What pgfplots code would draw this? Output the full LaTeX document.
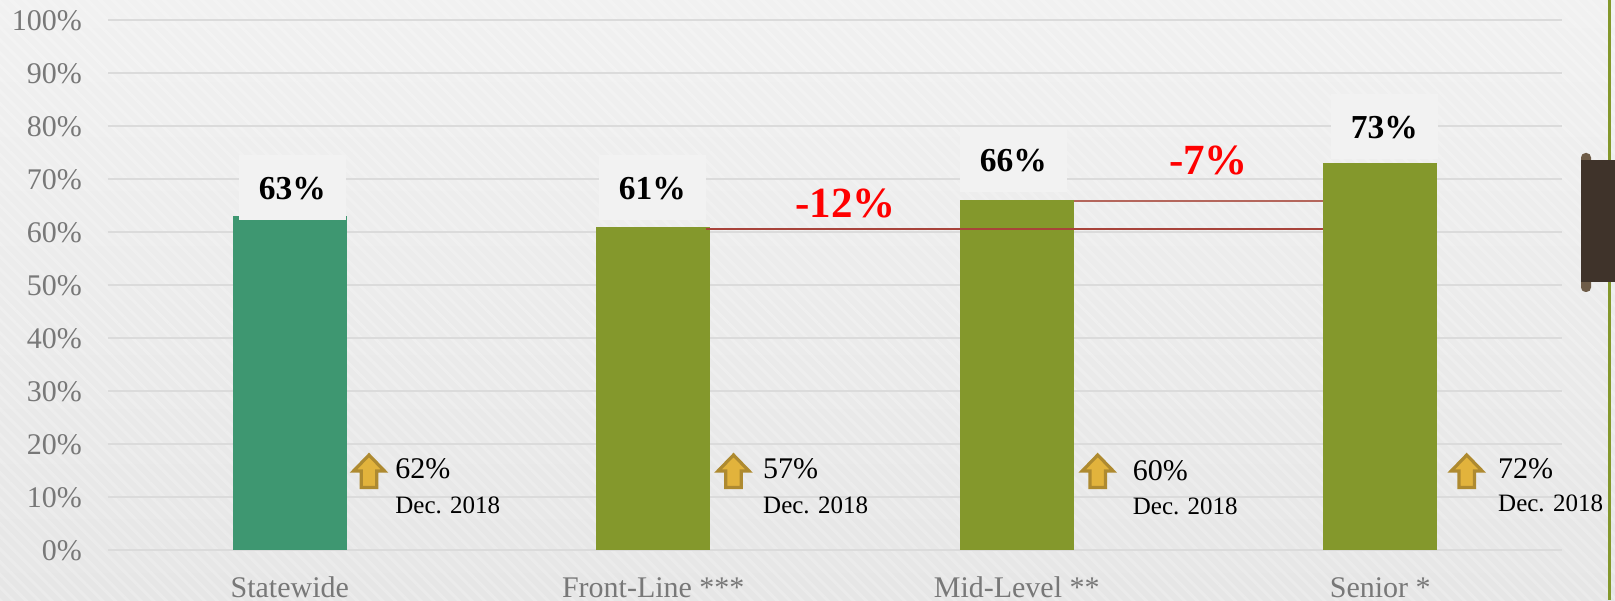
\documentclass[border=0pt]{standalone}
\usepackage{pgfplots}
\pgfplotsset{compat=1.18}
\usepackage{fontspec}
\setmainfont{Liberation Serif}
\usetikzlibrary{patterns.meta}

\definecolor{barolive}{HTML}{84982C}
\definecolor{barteal}{HTML}{3E9771}
\definecolor{labelbg}{HTML}{F2F2F2}
\definecolor{gridgrey}{HTML}{DBDBDB}
\definecolor{tickgrey}{HTML}{787878}
\definecolor{gaprule}{HTML}{A8433A}
\definecolor{gaprulelight}{HTML}{B4665C}
\definecolor{arrowfill}{HTML}{E2B33C}
\definecolor{arrowedge}{HTML}{AE8A30}
\definecolor{tabdark}{HTML}{3F332A}
\definecolor{tabknob}{HTML}{6E5C48}
\definecolor{bgtop}{HTML}{F1F1F1}
\definecolor{bgbottom}{HTML}{E6E6E6}

% One unit is one pixel of the 1615x600 slide; the origin is the plot's lower left corner.
\newcommand{\upmark}[1]{%
  \filldraw[fill=arrowfill,draw=arrowedge,line width=3.2pt,line join=miter,shift={(#1,0)}]
    (0,95) -- (15.5,79) -- (7.7,79) -- (7.7,62.5) -- (-7.7,62.5) -- (-7.7,79) -- (-15.5,79) -- cycle;}
\newcommand{\prior}[4]{%
  \node[anchor=base west,inner sep=0pt,font=\fontsize{30}{32}\selectfont] at (#1,#2) {#4};
  \node[anchor=base west,inner sep=0pt,font=\fontsize{25}{27}\selectfont] at (#1,#3) {Dec. 2018};}

% Label box above a bar: horizontal and vertical offset from the bar's top centre.
\pgfplotsset{
  boxed label/.style 2 args={
    nodes near coords={\pgfmathprintnumber{\pgfplotspointmeta}\%},
    every node near coord/.append style={
      anchor=south,fill=labelbg,inner sep=0pt,text=black,
      minimum width=107pt,minimum height=65pt,
      text height=30pt,text depth=6pt,
      font=\fontsize{33.5}{35}\selectfont\bfseries,
      xshift=#1,yshift=#2,
      /pgf/number format/assume math mode=true}}
}

\begin{document}
\begin{tikzpicture}[x=1pt,y=1pt]
  \useasboundingbox (-108,-50) rectangle (1507,550);

  % slide background with its faint diagonal weave
  \shade[top color=bgtop,bottom color=bgbottom] (-108,-50) rectangle (1507,550);
  \fill[pattern={Lines[angle=-45,distance=9pt,line width=3pt]},pattern color=white,opacity=0.2]
    (-108,-50) rectangle (1507,550);

  \begin{axis}[
    at={(0,0)},anchor=south west,
    scale only axis,width=1454pt,height=530pt,
    xmin=-0.5,xmax=3.5,ymin=0,ymax=100,
    ybar=0pt,bar width=114pt,bar shift=0pt,
    axis line style={draw=none},
    major tick length=0pt,
    xtick={0,1,2,3},
    xticklabels={Statewide,Front-Line ***,Mid-Level **,Senior *},
    ytick={0,10,...,100},
    ymajorgrids,
    grid style={gridgrey,line width=2pt},
    yticklabel={\pgfmathprintnumber{\tick}\%},
    /pgf/number format/assume math mode=true,
    yticklabel style={anchor=east,inner sep=0pt,xshift=-26pt,yshift=-1pt,text=tickgrey,
      font=\fontsize{30}{32}\selectfont},
    xticklabel style={anchor=base,inner sep=0pt,yshift=-47pt,text=tickgrey,
      font=\fontsize{30}{32}\selectfont},
    clip=false,
  ]
    \addplot[fill=barteal,draw=none,boxed label={2.75pt}{-4pt}] coordinates {(0,63)};
    \addplot[fill=barolive,draw=none,boxed label={-0.75pt}{6.3pt}] coordinates {(1,61)};
    \addplot[fill=barolive,draw=none,boxed label={-3.25pt}{8pt}] coordinates {(2,66)};
    \addplot[fill=barolive,draw=none,boxed label={4.25pt}{4pt}] coordinates {(3,73)};

    % rules carrying the gaps to Senior
    \addplot[sharp plot,no marks,gaprule,line width=2pt] coordinates {(1.1455,60.5) (2.843,60.5)};
    \addplot[sharp plot,no marks,gaprulelight,line width=2pt] coordinates {(2.158,65.8) (2.843,65.8)};
  \end{axis}

  % gap figures
  \node[anchor=base,inner sep=0pt,text=red,font=\fontsize{43}{45}\selectfont\bfseries] at (737.5,332) {-12\%};
  \node[anchor=base,inner sep=0pt,text=red,font=\fontsize{43}{45}\selectfont\bfseries] at (1100.5,375) {-7\%};

  % change since December 2018
  \upmark{261}    \prior{287.2}{71}{37}{62\%}
  \upmark{625.5}  \prior{655}{71}{37}{57\%}
  \upmark{989.7}  \prior{1024.7}{69.5}{36}{60\%}
  \upmark{1358.7} \prior{1390}{71}{38}{72\%}

  % binder edge at the right of the slide
  \fill[barolive] (1499.7,-50) rectangle (1503,550);
  \fill[tabknob,rounded corners=4.5pt] (1473,258) rectangle (1483,397);
  \fill[tabdark] (1473,268) rectangle (1507,390);
\end{tikzpicture}
\end{document}
